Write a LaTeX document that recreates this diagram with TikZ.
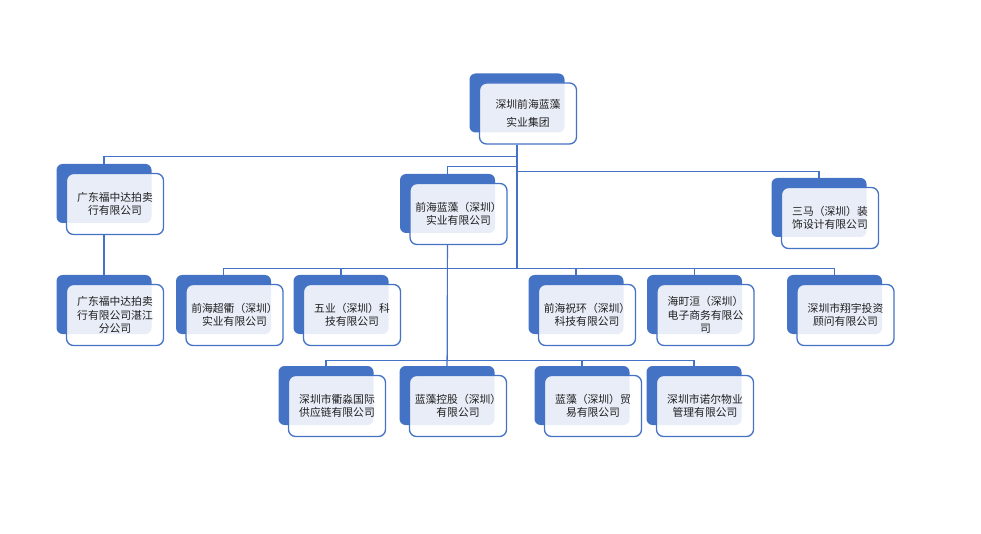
\documentclass[tikz,border=0pt]{standalone}
\usepackage{fontspec}
\newfontfamily\cjk{Noto Sans CJK SC}
\usepackage{tikz}
\usetikzlibrary{positioning}
\usetikzlibrary{calc}
\definecolor{orgblue}{HTML}{4472C4}
\definecolor{orgtext}{HTML}{1F1F1F}
\tikzset{
    backbox/.style={fill=orgblue, rounded corners=6pt, minimum width=95pt, minimum height=59pt, inner sep=0pt},
    frontbox/.style={draw=orgblue, line width=1.3pt, fill=white, fill opacity=0.88, text opacity=1,
        rounded corners=7pt, minimum width=97pt, minimum height=61pt, inner sep=1pt,
        align=center, text=orgtext, font=\cjk\fontsize{10.8}{13.5}\selectfont},
    link/.style={draw=orgblue, line width=1.1pt},
}
\def\firm[#1](#2)#3% Syntax: [name] (centre of the blue block) {text}
    { \node[backbox] (#1b) at (#2) {};
      \node[frontbox] (#1) at ([xshift=11pt,yshift=-10.5pt]#1b.center) {#3}; }
\begin{document}
\begin{tikzpicture}[x=1pt,y=-1pt]
	\useasboundingbox (0,0) rectangle (981,534);
	% top and second level
	\firm[hq](517,103){深圳前海蓝藻\\[4pt]实业集团};
	\firm[gd](104,193.5){广东福中达拍卖\\行有限公司};
	\firm[qhlz](447.5,203.5){前海蓝藻（深圳）\\实业有限公司};
	\firm[sm](819,207.5){三马（深圳）装\\饰设计有限公司};
	% third level
	\firm[gdzj](104,304.5){广东福中达拍卖\\行有限公司湛江\\分公司};
	\firm[qhcq](223.5,304.5){前海超衢（深圳）\\实业有限公司};
	\firm[wy](341,304.5){五业（深圳）科\\技有限公司};
	\firm[qhzh](576,304.5){前海祝环（深圳）\\科技有限公司};
	\firm[htx](694.5,304.5){海町洹（深圳）\\电子商务有限公\\司};
	\firm[xy](834.5,304.5){深圳市翔宇投资\\顾问有限公司};
	% fourth level
	\firm[hm](326,395.5){深圳市衢淼国际\\供应链有限公司};
	\firm[lzkg](447,395.5){蓝藻控股（深圳）\\有限公司};
	\firm[lzmy](582,395.5){蓝藻（深圳）贸\\易有限公司};
	\firm[ne](694,395.5){深圳市诺尔物业\\管理有限公司};
	
	\draw[link] (hqb |- hq.south) |- ([yshift=7pt]gdb.north) -- (gdb.north);
	\draw[link] (hqb |- hq.south) |- ([yshift=7pt]qhlzb.north) -- (qhlzb.north);
	\draw[link] (hqb |- hq.south) |- ([yshift=6pt]smb.north) -- (smb.north);
	\draw[link] (gdb |- gd.south) -- (gdzjb.north);
	\draw[link] (hqb |- hq.south) |- ([yshift=6pt]qhcqb.north) -- (qhcqb.north);
	\draw[link] (hqb |- hq.south) |- ([yshift=6pt]wyb.north) -- (wyb.north);
	\draw[link] (hqb |- hq.south) |- ([yshift=6pt]qhzhb.north) -- (qhzhb.north);
	\draw[link] (hqb |- hq.south) |- ([yshift=6pt]htxb.north) -- (htxb.north);
	\draw[link] (hqb |- hq.south) |- ([yshift=6pt]xyb.north) -- (xyb.north);
	\draw[link] (qhlzb |- qhlz.south) |- ([yshift=5pt]hmb.north) -- (hmb.north);
	\draw[link] (qhlzb |- qhlz.south) -- (lzkgb.north);
	\draw[link] (qhlzb |- qhlz.south) |- ([yshift=5pt]lzmyb.north) -- (lzmyb.north);
	\draw[link] (qhlzb |- qhlz.south) |- ([yshift=5pt]neb.north) -- (neb.north);
\end{tikzpicture}
\end{document}
